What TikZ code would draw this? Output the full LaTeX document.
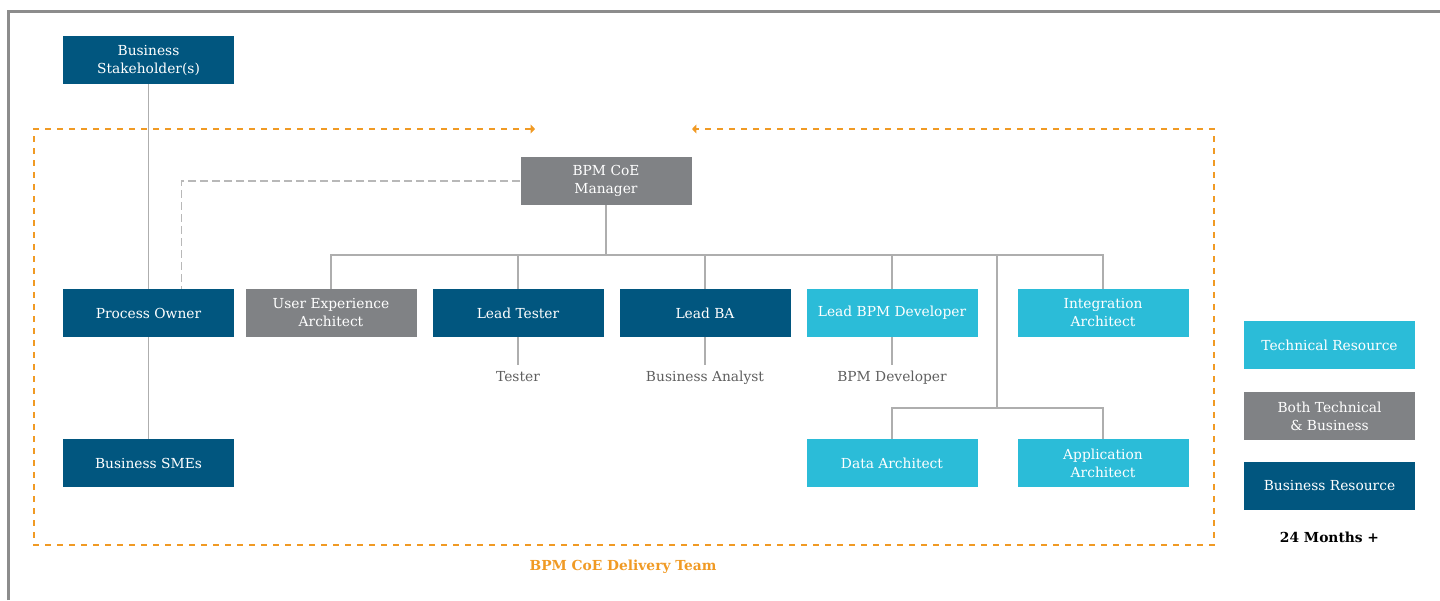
\documentclass[tikz,border=0pt]{standalone}
\usepackage{fontspec}
\setmainfont{DejaVu Serif}
\usetikzlibrary{arrows.meta}
\definecolor{bizblue}{HTML}{01567F}
\definecolor{techcyan}{HTML}{2BBCD8}
\definecolor{bothgray}{HTML}{808285}
\definecolor{linegray}{HTML}{AEAEAE}
\definecolor{dashgray}{HTML}{B8B8B8}
\definecolor{teamorange}{HTML}{F09A24}
\definecolor{framegray}{HTML}{8C8C8C}
\definecolor{subtext}{HTML}{5F5F5F}
\begin{document}
\begin{tikzpicture}[x=0.5pt,y=-0.5pt,
  role/.style={rectangle, minimum width=85.5pt, minimum height=24pt, inner sep=0pt,
    text=white, align=center, font=\fontsize{6.9}{9}\selectfont},
  biz/.style={role, fill=bizblue},
  tech/.style={role, fill=techcyan},
  both/.style={role, fill=bothgray},
  sublabel/.style={text=subtext, font=\fontsize{6.9}{9}\selectfont,
    text height=5.1pt, text depth=0pt, inner sep=3pt},
  link/.style={draw=linegray, line width=0.75pt},
  dotted link/.style={draw=dashgray, line width=0.95pt, dash pattern=on 4pt off 2pt},
  team frame/.style={draw=teamorange, line width=0.75pt, dash pattern=on 3pt off 3pt,
    {Triangle[length=2.2pt,width=4.4pt]}-{Triangle[length=2.2pt,width=4.4pt]}},
  caption/.style={font=\bfseries\fontsize{6.9}{9}\selectfont, inner sep=0pt}]

\useasboundingbox (0,0) rectangle (1440,600);

% page frame
\draw[framegray, line width=1.5pt] (8,600) -- (8,11) -- (1440,11);

% delivery team boundary
\draw[team frame] (535,129) -- (34,129) -- (34,545) -- (1214,545) -- (1214,129) -- (692,129);
\node[caption, text=teamorange] (team) at (623,567) {BPM CoE Delivery Team};

% business line
\node[biz] (stake) at (148.5,60) {Business\\Stakeholder(s)};
\node[biz] (po) at (148.5,313) {Process Owner};
\node[biz] (smes) at (148.5,463) {Business SMEs};

% CoE manager and leads
\node[both] (mgr) at (606,181) {BPM CoE\\Manager};
\node[both] (ux) at (331,313) {User Experience\\Architect};
\node[biz] (lt) at (518,313) {Lead Tester};
\node[biz] (lba) at (705,313) {Lead BA};
\node[tech] (lbd) at (892,313) {Lead BPM Developer};
\node[tech] (ia) at (1103,313) {Integration\\Architect};
\node[tech] (da) at (892,463) {Data Architect};
\node[tech] (aa) at (1103,463) {Application\\Architect};

% team members under the leads
\node[sublabel] (tester) at (518,376) {Tester};
\node[sublabel] (ba) at (705,376) {Business Analyst};
\node[sublabel] (bpmdev) at (892,376) {BPM Developer};

% legend
\node[tech] (legtech) at (1329.5,345) {Technical Resource};
\node[both] (legboth) at (1329.5,416) {Both Technical\\\& Business};
\node[biz] (legbiz) at (1329.5,486) {Business Resource};
\node[caption] (term) at (1329.5,537) {24 Months +};

% connectors
\coordinate (bus) at (606,255);
\coordinate (busfork) at (997,255);
\coordinate (fork) at (997,408);

\draw[link] (stake) -- (po);
\draw[link] (po) -- (smes);
\draw[dotted link] (mgr.west) -| ([xshift=16.5pt]po.north);
\draw[link] (mgr) -- (bus);
\draw[link] (ux.north) |- (bus) -| (ia.north);
\draw[link] (lt.north) -- (lt.north |- bus);
\draw[link] (lba.north) -- (lba.north |- bus);
\draw[link] (lbd.north) -- (lbd.north |- bus);
\draw[link] (busfork) -- (fork);
\draw[link] (da.north) |- (fork) -| (aa.north);
\draw[link] (lt) -- (tester);
\draw[link] (lba) -- (ba);
\draw[link] (lbd) -- (bpmdev);
\end{tikzpicture}
\end{document}
